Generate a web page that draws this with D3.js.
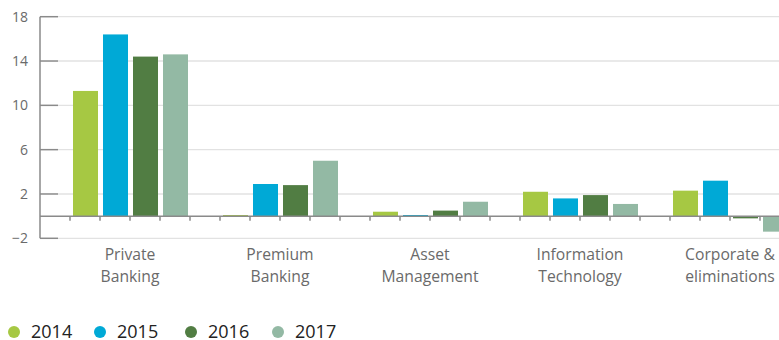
<!DOCTYPE html>
<html>
<head>
<meta charset="utf-8">
<script src="https://cdn.jsdelivr.net/npm/d3@7"></script>
<style>
  html, body { margin: 0; padding: 0; background: #fff; }
  svg { display: block; font-family: "Open Sans", "Noto Sans", sans-serif; }
</style>
</head>
<body>
<svg id="chart" width="779" height="340"></svg>
<script>
// Segments shown along the x axis (each label split over two lines)
const categories = ["Private Banking", "Premium Banking", "Asset Management", "Information Technology", "Corporate & eliminations"];
const categoryLines = [["Private", "Banking"], ["Premium", "Banking"], ["Asset", "Management"], ["Information", "Technology"], ["Corporate &", "eliminations"]];
const years = ["2014", "2015", "2016", "2017"];
const yearColors = ["#a6c843", "#00a9d6", "#517d43", "#93b9a4"];

// Values per segment, one array per year
const values2014 = [11.3, 0.1, 0.4, 2.2, 2.3];
const values2015 = [16.4, 2.9, 0.1, 1.6, 3.2];
const values2016 = [14.4, 2.8, 0.5, 1.9, -0.2];
const values2017 = [14.6, 5.0, 1.3, 1.1, -1.4];
const seriesValues = [values2014, values2015, values2016, values2017];

const yTicks = [-2, 2, 6, 10, 14, 18];

const svg = d3.select("#chart");
const W = 779;
const axisX = 40;

const y = d3.scaleLinear().domain([-2, 18]).range([238.3, 16.7]);

// Each segment takes five bar slots: four years and one empty slot
const x0 = d3.scaleBand().domain(categories).range([70, 820]).padding(0);
const x1 = d3.scaleBand().domain(years).range([0, x0.bandwidth() * 4 / 5]).padding(0);
const color = d3.scaleOrdinal().domain(years).range(yearColors);

// Horizontal grid lines
svg.append("g").selectAll("line").data(yTicks).join("line")
  .attr("x1", axisX + 18).attr("x2", W)
  .attr("y1", d => y(d)).attr("y2", d => y(d))
  .attr("stroke", "#e2e2e2").attr("stroke-width", 1.3);

// Bars
const rows = [];
categories.forEach((c, i) => years.forEach((yr, j) => rows.push({ c, yr, v: seriesValues[j][i] })));
svg.append("g").selectAll("rect").data(rows).join("rect")
  .attr("x", d => x0(d.c) + x1(d.yr) + 3)
  .attr("width", x1.bandwidth() - 5)
  .attr("y", d => y(Math.max(0, d.v)))
  .attr("height", d => Math.abs(y(d.v) - y(0)))
  .attr("fill", d => color(d.yr));

// Zero baseline with small ticks at every bar slot edge
svg.append("line")
  .attr("x1", axisX).attr("x2", W)
  .attr("y1", y(0)).attr("y2", y(0))
  .attr("stroke", "#8a8a8a").attr("stroke-width", 1.5);
const slotEdges = [];
categories.forEach(c => { years.forEach(yr => slotEdges.push(x0(c) + x1(yr))); slotEdges.push(x0(c) + x1.range()[1]); });
svg.append("g").selectAll("line").data(slotEdges).join("line")
  .attr("x1", d => d).attr("x2", d => d)
  .attr("y1", y(0)).attr("y2", y(0) + 4.5)
  .attr("stroke", "#8a8a8a").attr("stroke-width", 1.5);

// Y axis: vertical rule, short ticks to the right, labels to the left
svg.append("line")
  .attr("x1", axisX).attr("x2", axisX)
  .attr("y1", y(18)).attr("y2", y(-2))
  .attr("stroke", "#8a8a8a").attr("stroke-width", 1.5);
svg.append("g").selectAll("line").data(yTicks).join("line")
  .attr("x1", axisX).attr("x2", axisX + 18)
  .attr("y1", d => y(d)).attr("y2", d => y(d))
  .attr("stroke", "#8a8a8a").attr("stroke-width", 1.5);
svg.append("g").selectAll("text").data(yTicks).join("text")
  .attr("x", 28).attr("y", d => y(d))
  .attr("dy", "0.35em")
  .attr("text-anchor", "end")
  .attr("font-size", 14)
  .attr("fill", "#6a6a6a")
  .text(d => d < 0 ? "\u2212" + Math.abs(d) : d);

// Category labels centred under the four bars
const labels = svg.append("g").selectAll("text").data(categories).join("text")
  .attr("text-anchor", "middle")
  .attr("font-size", 15.7)
  .attr("fill", "#6a6a6a")
  .attr("transform", d => `translate(${x0(d) + x1.range()[1] / 2},0)`);
labels.selectAll("tspan").data((d, i) => categoryLines[i]).join("tspan")
  .attr("x", 0)
  .attr("y", (d, k) => 260 + k * 22)
  .text(d => d);

// Legend
const legendX = [14, 100, 191, 278];
const lg = svg.append("g").selectAll("g").data(years).join("g")
  .attr("transform", (d, i) => `translate(${legendX[i]},0)`);
lg.append("circle").attr("cy", 332).attr("r", 6).attr("fill", d => color(d));
lg.append("text")
  .attr("x", 17).attr("y", 338)
  .attr("font-size", 18)
  .attr("fill", "#222")
  .text(d => d);
</script>
</body>
</html>
